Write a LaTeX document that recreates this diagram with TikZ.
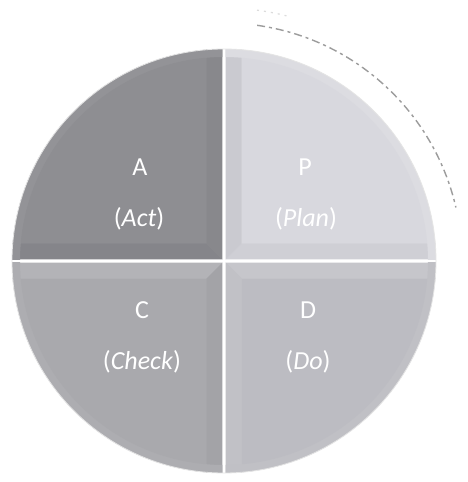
\documentclass[tikz,border=0pt]{standalone}
\usepackage{fontspec}
\setmainfont{Carlito}
\definecolor{aFace}{HTML}{8E8E92}\definecolor{aH}{HTML}{85858A}\definecolor{aV}{HTML}{88888C}\definecolor{aArc}{HTML}{939397}
\definecolor{pFace}{HTML}{D8D8DE}\definecolor{pH}{HTML}{CFCFD5}\definecolor{pV}{HTML}{CACAD0}\definecolor{pArc}{HTML}{DCDCE1}
\definecolor{cFace}{HTML}{A9A9AD}\definecolor{cH}{HTML}{B3B3B7}\definecolor{cV}{HTML}{A3A3A7}\definecolor{cArc}{HTML}{ADADB1}
\definecolor{dFace}{HTML}{BCBCC2}\definecolor{dH}{HTML}{C6C6CB}\definecolor{dV}{HTML}{C1C1C6}\definecolor{dArc}{HTML}{C0C0C5}
\definecolor{arcGrey}{HTML}{9C9C9C}
\newcommand\RRad{212}
\newcommand\GGap{1.7}
\newcommand\DDep{16}
\newcommand\pdcaQuad[6]{%
  \begin{scope}[shift={(224,221)},xscale=#1,yscale=#2]
    \clip (0,0) circle (\RRad);
    \clip (\GGap,\GGap) rectangle (\RRad+5,\RRad+5);
    \fill[#3] (\GGap,\GGap) rectangle (\RRad+5,\RRad+5);
    \fill[#4] (\GGap,\GGap) -- (\RRad+5,\GGap) -- (\RRad+5,\GGap+\DDep) -- (\GGap+\DDep,\GGap+\DDep) -- cycle;
    \fill[#5] (\GGap,\GGap) -- (\GGap,\RRad+5) -- (\GGap+\DDep,\RRad+5) -- (\GGap+\DDep,\GGap+\DDep) -- cycle;
    \fill[#3,even odd rule] (0,0) circle (\RRad) (0,0) circle (\RRad-8);
    \begin{scope}
      \clip (0,0) circle (\RRad-8);
      \fill[#6] (\GGap+\DDep,\GGap+\DDep) rectangle (\RRad,\RRad);
    \end{scope}
  \end{scope}}
\begin{document}
\begin{tikzpicture}[x=1pt,y=1pt,
  lbl/.style={text=white,inner sep=0pt,font=\fontsize{26}{30}\selectfont},
  arcdash/.style={draw=arcGrey,line width=1.4pt,dash pattern=on 8pt off 4pt on 3pt off 4pt},
  arcfaint/.style={draw=arcGrey!35,line width=1.2pt,dash pattern=on 2pt off 5pt}]
\useasboundingbox (0,0) rectangle (468,482);
\fill[white] (0,0) rectangle (468,482);
\coordinate (O) at (224,221);
\pdcaQuad{-1}{1}{aArc}{aH}{aV}{aFace}
\pdcaQuad{1}{1}{pArc}{pH}{pV}{pFace}
\pdcaQuad{-1}{-1}{cArc}{cH}{cV}{cFace}
\pdcaQuad{1}{-1}{dArc}{dH}{dV}{dFace}
\draw[white!80!gray,line width=0.8pt] (O) circle (\RRad);
\draw[arcdash] (O) ++(82:238) arc[start angle=82,end angle=13,radius=238];
\draw[arcfaint] (O) ++(82.5:253) arc[start angle=82.5,end angle=75,radius=253];
\node[lbl] (nA) at (140,315) {A};
\node[lbl] (nAct) at (139,263) {(\textit{Act})};
\node[lbl] (nP) at (305,315) {P};
\node[lbl] (nPlan) at (306,263) {(\textit{Plan})};
\node[lbl] (nC) at (142,172) {C};
\node[lbl] (nCheck) at (142,120) {(\textit{Check})};
\node[lbl] (nD) at (308,172) {D};
\node[lbl] (nDo) at (308,120) {(\textit{Do})};
\end{tikzpicture}
\end{document}
